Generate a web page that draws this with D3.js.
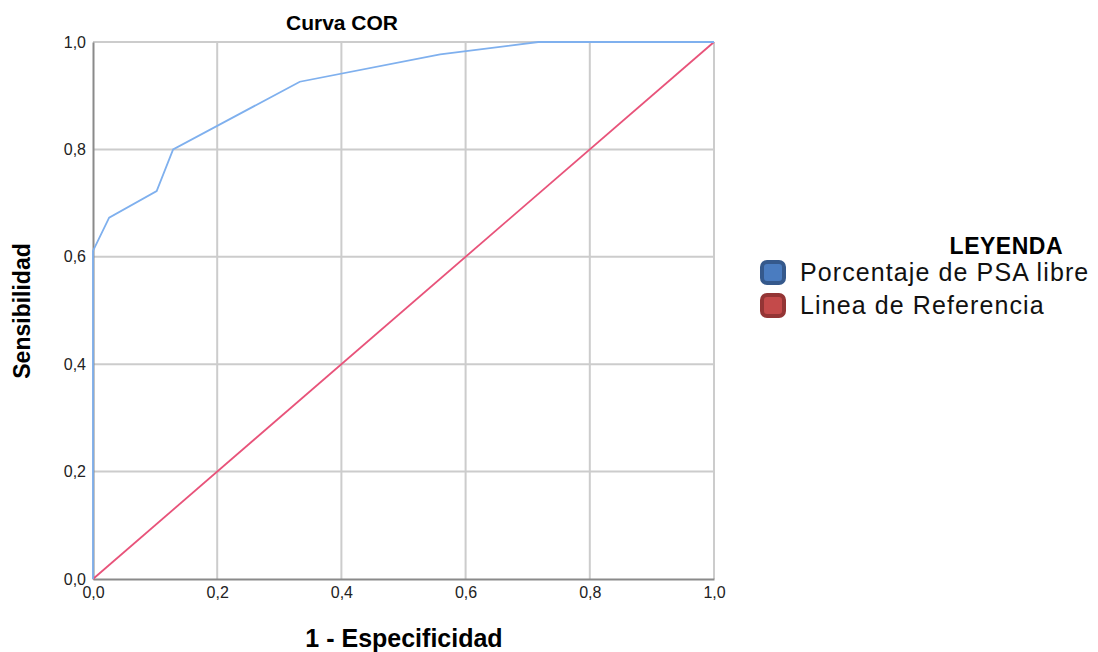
<!DOCTYPE html>
<html>
<head>
<meta charset="utf-8">
<script src="https://cdn.jsdelivr.net/npm/d3@7"></script>
<style>
  body { margin: 0; background: #fff; }
  text { font-family: "Liberation Sans", Arial, sans-serif; }
</style>
</head>
<body>
<div id="chart"></div>
<script>
// ROC curve points (1 - especificidad, sensibilidad)
const fpr = [0, 0, 0.026, 0.1025, 0.129, 0.333, 0.559, 0.717, 1];
const tpr = [0, 0.611, 0.673, 0.7225, 0.80, 0.926, 0.977, 1, 1];
const refLine = [0, 1];
const ticks = [0, 0.2, 0.4, 0.6, 0.8, 1];
const legendLabels = ["Porcentaje de PSA libre", "Linea de Referencia"];

const width = 1098, height = 652;
const margin = { left: 93, right: 384, top: 42, bottom: 73 };

const svg = d3.select("#chart").append("svg")
    .attr("width", width)
    .attr("height", height);

const x = d3.scaleLinear().domain([0, 1]).range([margin.left, width - margin.right]);
const y = d3.scaleLinear().domain([0, 1]).range([height - margin.bottom, margin.top]);
const fmt = d => d3.format(".1f")(d).replace(".", ",");

// gridlines
svg.append("g")
    .selectAll("line.vx")
    .data(ticks.slice(1))
    .enter().append("line")
    .attr("x1", d => x(d)).attr("x2", d => x(d))
    .attr("y1", y(0)).attr("y2", y(1))
    .attr("stroke", "#cccccc").attr("stroke-width", 2);

svg.append("g")
    .selectAll("line.hy")
    .data(ticks.slice(1))
    .enter().append("line")
    .attr("x1", x(0)).attr("x2", x(1))
    .attr("y1", d => y(d)).attr("y2", d => y(d))
    .attr("stroke", "#cccccc").attr("stroke-width", 2);

// axes
const xAxis = svg.append("g")
    .attr("transform", `translate(0,${y(0)})`)
    .call(d3.axisBottom(x).tickValues(ticks).tickFormat(fmt).tickSize(0).tickPadding(8));
const yAxis = svg.append("g")
    .attr("transform", `translate(${x(0)},0)`)
    .call(d3.axisLeft(y).tickValues(ticks).tickFormat(fmt).tickSize(0).tickPadding(7));

[xAxis, yAxis].forEach(a => {
    a.select(".domain").attr("stroke", "#8a8a8a").attr("stroke-width", 2);
    a.selectAll("text").attr("font-size", "16px").attr("fill", "#222")
        .style("font-family", "'Liberation Sans', Arial, sans-serif");
});

// reference line
svg.append("line")
    .attr("x1", x(refLine[0])).attr("y1", y(refLine[0]))
    .attr("x2", x(refLine[1])).attr("y2", y(refLine[1]))
    .attr("stroke", "#e8537a").attr("stroke-width", 1.8);

// ROC curve
const line = d3.line().x((d, i) => x(fpr[i])).y((d, i) => y(tpr[i]));
svg.append("path")
    .datum(fpr)
    .attr("d", line)
    .attr("fill", "none")
    .attr("stroke", "#7fb0ee")
    .attr("stroke-width", 1.8);

// titles
svg.append("text")
    .attr("x", 342).attr("y", 30)
    .attr("text-anchor", "middle")
    .attr("font-size", "21px").attr("font-weight", "bold")
    .text("Curva COR");

svg.append("text")
    .attr("x", 404).attr("y", 647)
    .attr("text-anchor", "middle")
    .attr("font-size", "25px").attr("font-weight", "bold")
    .text("1 - Especificidad");

svg.append("text")
    .attr("transform", "translate(30,311) rotate(-90)")
    .attr("text-anchor", "middle")
    .attr("font-size", "23px").attr("font-weight", "bold")
    .text("Sensibilidad");

// legend
const legend = svg.append("g").attr("transform", "translate(760,0)");
legend.append("text")
    .attr("x", 303).attr("y", 254)
    .attr("text-anchor", "end")
    .attr("font-size", "23px").attr("font-weight", "bold")
    .attr("letter-spacing", "0.5px")
    .text("LEYENDA");

const swatch = [{ fill: "#4a7cc0", stroke: "#35598c" }, { fill: "#c44a4a", stroke: "#943535" }];
const items = legend.selectAll("g.item")
    .data(legendLabels)
    .enter().append("g")
    .attr("transform", (d, i) => `translate(0,${260 + i * 33})`);

items.append("rect")
    .attr("x", 2).attr("y", 2)
    .attr("width", 22).attr("height", 21)
    .attr("rx", 5)
    .attr("fill", (d, i) => swatch[i].fill)
    .attr("stroke", (d, i) => swatch[i].stroke)
    .attr("stroke-width", 4);

items.append("text")
    .attr("x", 40).attr("y", 21)
    .attr("font-size", "25px")
    .attr("letter-spacing", "1.1px")
    .attr("fill", "#111")
    .text(d => d);
</script>
</body>
</html>
